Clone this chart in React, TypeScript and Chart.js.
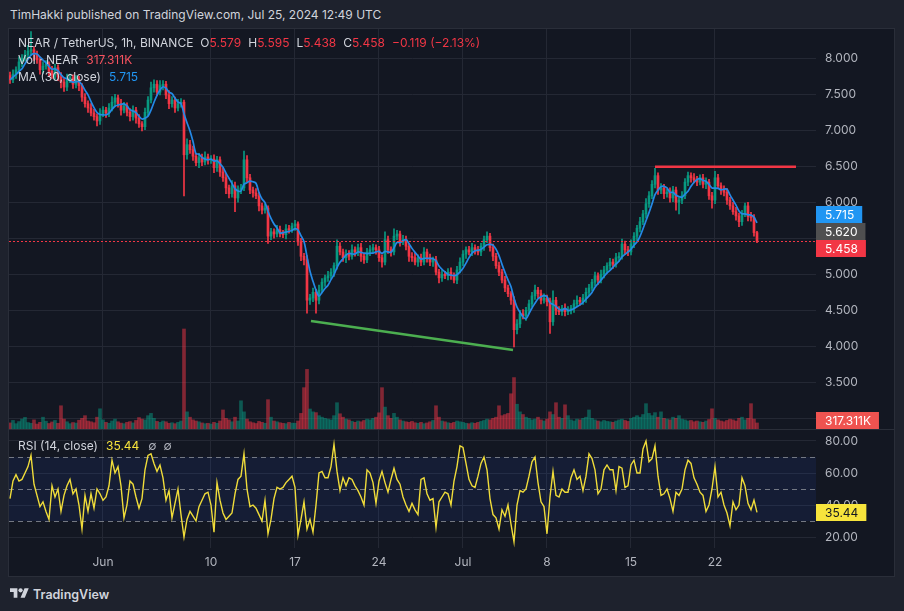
import React, { useEffect, useRef } from 'react';
import { Chart, registerables } from 'chart.js';

Chart.register(...registerables);

// NEAR/USDT, sampled every 6 hours. x is measured in days from 1 Jun 2024 00:00 UTC.
const FIRST_DAY = -7.75;
const STEP_DAYS = 0.25;
const FIRST_OPEN = 7.76;
const MA_WINDOW = 5; // 5 samples x 6h = 30 hours

const closes = [
  7.70, 7.78, 7.84, 7.95, 8.00, 8.05, 8.10, 8.12, 8.05, 7.98,
  7.84, 7.89, 7.92, 7.82, 7.77, 7.87, 7.74, 7.67, 7.60, 7.70,
  7.73, 7.64, 7.70, 7.62, 7.46, 7.37, 7.31, 7.24, 7.19, 7.13,
  7.23, 7.28, 7.24, 7.31, 7.39, 7.45, 7.37, 7.28, 7.34, 7.25,
  7.19, 7.28, 7.17, 7.09, 7.05, 7.25, 7.42, 7.59, 7.64, 7.53,
  7.62, 7.64, 7.49, 7.37, 7.42, 7.31, 7.37, 7.39, 6.66, 6.80,
  6.73, 6.64, 6.55, 6.62, 6.56, 6.63, 6.59, 6.60, 6.48, 6.59,
  6.42, 6.34, 6.20, 6.12, 6.23, 6.06, 6.17, 6.20, 6.59, 6.34,
  6.17, 6.13, 6.09, 5.95, 5.89, 5.92, 5.53, 5.59, 5.56, 5.62,
  5.57, 5.55, 5.63, 5.62, 5.67, 5.70, 5.45, 5.25, 5.20, 4.64,
  4.67, 4.75, 4.64, 4.78, 4.89, 4.95, 4.98, 5.03, 5.12, 5.39,
  5.31, 5.23, 5.28, 5.25, 5.34, 5.31, 5.37, 5.25, 5.20, 5.31,
  5.34, 5.37, 5.34, 5.23, 5.17, 5.48, 5.34, 5.31, 5.53, 5.56,
  5.45, 5.48, 5.39, 5.25, 5.23, 5.17, 5.23, 5.17, 5.31, 5.23,
  5.17, 5.20, 5.03, 4.95, 5.00, 4.98, 5.03, 4.98, 4.92, 5.06,
  5.17, 5.28, 5.34, 5.31, 5.37, 5.34, 5.31, 5.39, 5.48, 5.53,
  5.37, 5.25, 5.12, 5.03, 4.92, 4.81, 4.73, 4.64, 4.23, 4.31,
  4.45, 4.42, 4.50, 4.59, 4.70, 4.78, 4.73, 4.64, 4.67, 4.62,
  4.34, 4.64, 4.50, 4.48, 4.53, 4.48, 4.50, 4.53, 4.59, 4.64,
  4.62, 4.67, 4.75, 4.81, 4.89, 4.98, 4.92, 5.00, 5.06, 5.12,
  5.17, 5.14, 5.23, 5.25, 5.42, 5.34, 5.31, 5.42, 5.53, 5.64,
  5.73, 5.84, 5.98, 6.09, 6.25, 6.37, 6.17, 6.20, 6.12, 6.14,
  6.06, 6.17, 6.00, 6.03, 6.09, 6.28, 6.37, 6.34, 6.31, 6.28,
  6.34, 6.25, 6.28, 6.09, 6.03, 6.34, 6.23, 6.17, 6.14, 6.03,
  5.95, 5.87, 5.81, 5.73, 5.84, 5.95, 5.80, 5.788, 5.579, 5.458,
];

// distance of the high above the candle body
const wickUp = [
  .05, .06, .04, .07, .05, .06, .08, .25, .04, .05,
  .04, .06, .05, .03, .07, .05, .04, .06, .05, .08,
  .05, .04, .06, .05, .03, .05, .04, .06, .05, .04,
  .07, .05, .04, .06, .08, .05, .04, .06, .05, .04,
  .05, .06, .04, .05, .03, .06, .05, .08, .06, .05,
  .07, .05, .04, .06, .05, .04, .06, .05, .03, .08,
  .06, .05, .04, .06, .05, .07, .04, .05, .06, .05,
  .04, .05, .06, .04, .07, .05, .06, .05, .12, .06,
  .05, .04, .06, .05, .04, .06, .03, .05, .04, .06,
  .05, .04, .06, .05, .04, .05, .03, .05, .04, .06,
  .05, .06, .04, .07, .05, .04, .06, .05, .04, .09,
  .05, .04, .06, .05, .07, .04, .05, .06, .04, .05,
  .06, .05, .04, .05, .04, .11, .05, .04, .10, .05,
  .04, .06, .05, .04, .05, .06, .04, .05, .06, .04,
  .05, .04, .05, .04, .06, .04, .05, .06, .04, .05,
  .06, .05, .04, .05, .06, .04, .05, .04, .05, .06,
  .04, .05, .04, .05, .04, .05, .04, .03, .05, .06,
  .05, .06, .04, .05, .05, .07, .04, .05, .06, .04,
  .05, .13, .04, .05, .04, .06, .05, .04, .05, .06,
  .04, .05, .06, .05, .04, .05, .04, .06, .05, .04,
  .05, .04, .06, .05, .07, .04, .05, .06, .05, .04,
  .06, .05, .07, .06, .05, .10, .04, .06, .05, .04,
  .06, .05, .04, .05, .06, .05, .05, .04, .06, .05,
  .04, .05, .06, .04, .05, .09, .05, .04, .06, .05,
  .04, .05, .06, .04, .05, .04, .05, .06, .04, .016,
];

// distance of the low below the candle body
const wickDn = [
  .05, .04, .06, .05, .07, .04, .05, .06, .08, .05,
  .06, .05, .04, .07, .05, .06, .05, .08, .06, .05,
  .04, .06, .05, .07, .06, .05, .06, .04, .05, .07,
  .05, .04, .06, .05, .04, .06, .05, .07, .04, .05,
  .06, .05, .07, .05, .06, .04, .05, .04, .06, .05,
  .04, .06, .05, .07, .05, .06, .04, .05, .57, .06,
  .05, .06, .04, .07, .05, .04, .06, .05, .07, .05,
  .06, .05, .08, .06, .05, .19, .06, .05, .04, .06,
  .05, .06, .04, .07, .05, .04, .10, .05, .06, .04,
  .05, .04, .06, .05, .04, .06, .05, .06, .07, .18,
  .06, .05, .18, .05, .04, .06, .05, .04, .06, .05,
  .04, .05, .07, .05, .04, .06, .05, .07, .05, .04,
  .05, .04, .06, .05, .07, .04, .05, .06, .04, .05,
  .06, .04, .05, .07, .05, .04, .06, .05, .04, .06,
  .05, .06, .04, .07, .05, .04, .06, .05, .04, .05,
  .04, .05, .06, .04, .05, .06, .04, .05, .06, .04,
  .05, .06, .04, .05, .04, .05, .04, .06, .24, .06,
  .05, .04, .06, .05, .04, .05, .06, .05, .04, .06,
  .16, .05, .06, .04, .05, .06, .04, .05, .06, .04,
  .05, .04, .06, .05, .04, .05, .06, .04, .05, .04,
  .05, .06, .04, .05, .04, .06, .05, .04, .05, .06,
  .05, .04, .06, .05, .04, .05, .06, .05, .07, .05,
  .06, .05, .11, .16, .05, .04, .05, .06, .04, .05,
  .04, .05, .06, .05, .11, .05, .04, .06, .05, .06,
  .05, .04, .06, .07, .05, .04, .06, .05, .05, .02,
];

// volume in thousands of NEAR
const volumes = [
  320, 450, 280, 390, 520, 610, 340, 300, 480, 260,
  350, 620, 410, 290, 370, 450, 300, 1220, 520, 380,
  280, 340, 310, 460, 560, 700, 420, 380, 330, 620,
  1060, 480, 350, 300, 420, 520, 380, 310, 280, 350,
  390, 320, 450, 600, 520, 480, 700, 820, 560, 400,
  350, 420, 380, 300, 330, 280, 350, 420, 5250, 900,
  620, 480, 420, 380, 320, 280, 300, 260, 350, 300,
  420, 1000, 560, 480, 380, 620, 420, 1480, 900, 520,
  380, 330, 290, 400, 350, 300, 1540, 620, 420, 380,
  330, 300, 280, 350, 310, 300, 420, 820, 2170, 3130,
  1050, 900, 860, 700, 620, 560, 520, 480, 700, 1380,
  800, 620, 520, 480, 400, 350, 420, 380, 450, 520,
  480, 560, 620, 850, 2170, 1150, 700, 560, 820, 620,
  480, 420, 380, 350, 400, 330, 300, 350, 280, 320,
  380, 450, 1220, 620, 420, 380, 330, 300, 350, 420,
  380, 350, 300, 280, 330, 300, 350, 400, 450, 520,
  480, 560, 620, 1220, 700, 760, 820, 1850, 2700, 1300,
  900, 760, 620, 560, 480, 520, 620, 480, 420, 520,
  900, 760, 1380, 620, 560, 1270, 700, 480, 420, 520,
  480, 560, 620, 1000, 560, 480, 420, 380, 450, 400,
  380, 350, 420, 480, 520, 450, 400, 560, 620, 700,
  620, 760, 1330, 820, 700, 860, 620, 900, 560, 520,
  480, 620, 560, 700, 520, 480, 420, 450, 380, 420,
  380, 350, 420, 500, 1060, 560, 480, 420, 380, 450,
  520, 480, 420, 560, 620, 480, 560, 1330, 520, 317.311,
];

const rsi = [
  44, 55, 59, 55, 56, 60, 64, 71, 53, 46,
  39, 42, 36, 31, 52, 45, 50, 36, 46, 52,
  56, 47, 50, 40, 25, 46, 36, 47, 38, 50,
  47, 43, 45, 52, 68, 60, 64, 52, 32, 40,
  55, 53, 45, 38, 44, 62, 71, 72, 66, 61,
  65, 57, 43, 49, 32, 41, 50, 34, 20, 31,
  36, 33, 30, 39, 43, 47, 48, 40, 23, 54,
  43, 35, 31, 33, 35, 47, 56, 58, 72, 50,
  39, 40, 38, 34, 30, 43, 22, 31, 44, 51,
  50, 51, 54, 56, 58, 51, 21, 31, 42, 25,
  31, 23, 40, 60, 61, 57, 57, 64, 78, 61,
  49, 57, 52, 57, 56, 52, 49, 45, 40, 62,
  60, 54, 41, 55, 61, 54, 48, 56, 63, 56,
  53, 45, 40, 36, 41, 37, 34, 56, 57, 47,
  43, 44, 26, 42, 45, 48, 47, 40, 55, 64,
  77, 76, 66, 56, 52, 51, 58, 66, 70, 62,
  44, 34, 32, 25, 37, 33, 40, 28, 17, 40,
  49, 48, 50, 58, 67, 70, 54, 42, 39, 22,
  45, 61, 46, 45, 50, 48, 48, 57, 62, 56,
  58, 49, 58, 72, 69, 62, 47, 50, 62, 65,
  62, 62, 49, 64, 63, 51, 52, 65, 68, 60,
  60, 75, 80, 67, 69, 77, 58, 46, 47, 50,
  44, 36, 48, 46, 50, 62, 68, 66, 57, 53,
  48, 46, 36, 40, 50, 64, 45, 48, 40, 35,
  27, 42, 37, 40, 57, 52, 41, 37, 43, 35.44,
];

const tickDays = [0, 9, 16, 23, 30, 37, 44, 51];
const tickLabels = ['Jun', '10', '17', '24', 'Jul', '8', '15', '22'];
const priceTicks = [3, 3.5, 4, 4.5, 5, 5.5, 6, 6.5, 7, 7.5, 8];
const rsiTicks = [20, 40, 60, 80];
const rsiLevels = [30, 50, 70];

// drawn trend lines (x in days, y in USDT)
const supportLine = [{ x: 17.33, y: 4.351 }, { x: 34.17, y: 3.949 }];
const resistanceLine = [{ x: 46.0, y: 6.495 }, { x: 57.75, y: 6.495 }];

const markPrice = 5.62;
const changeText = '\u22120.119 (\u22122.13%)';

// visible ranges
const X_MIN = -7.833;
const X_MAX = 59.417;
const P_MIN = 2.851;
const P_MAX = 8.407;
const VOL_MAX = 21000;
const RSI_MIN = 13.125;
const RSI_MAX = 86.875;

const FONT = 'Inter, "Noto Sans", "DejaVu Sans", sans-serif';
const BG = '#131722';
const OUTER = '#1e222d';
const GRID = '#242834';
const AXIS_TEXT = '#b2b5be';
const TEXT = '#d1d4dc';
const UP = '#089981';
const DOWN = '#f23645';
const MA_COLOR = '#2489e6';
const RSI_COLOR = '#f0dc3a';

const times = closes.map((_, i) => FIRST_DAY + i * STEP_DAYS);
const opens = closes.map((_, i) => (i === 0 ? FIRST_OPEN : closes[i - 1]));
const highs = closes.map((c, i) => Math.max(c, opens[i]) + wickUp[i]);
const lows = closes.map((c, i) => Math.min(c, opens[i]) - wickDn[i]);
const rising = closes.map((c, i) => c >= opens[i]);
const ma = closes.map((_, i) => {
  const win = closes.slice(Math.max(0, i - MA_WINDOW + 1), i + 1);
  return win.reduce((a, b) => a + b, 0) / win.length;
});

const last = closes.length - 1;
const lastClose = closes[last];
const lastMa = ma[last];
const lastVol = volumes[last];
const lastRsi = rsi[last];

type Tag = { axis: string; value: number; text: string; bg: string; fg: string };

function tagPlugin(items: Tag[]) {
  return {
    id: 'axisTags',
    afterDraw(chart: any) {
      const { ctx, chartArea } = chart;
      const H = 17;
      const placed = items
        .map((t) => ({ ...t, y: chart.scales[t.axis].getPixelForValue(t.value) }))
        .sort((a, b) => a.y - b.y);
      const groups: any[][] = [];
      for (const it of placed) {
        const g = groups[groups.length - 1];
        if (g && it.y - g[g.length - 1].y < H) g.push(it);
        else groups.push([it]);
      }
      for (const g of groups) {
        if (g.length < 2) continue;
        const mean = g.reduce((s, it) => s + it.y, 0) / g.length;
        g.forEach((it, k) => (it.y = mean + (k - (g.length - 1) / 2) * H));
      }
      ctx.save();
      ctx.font = `12px ${FONT}`;
      ctx.textBaseline = 'middle';
      for (const it of placed) {
        const w = ctx.measureText(it.text).width + 17;
        let top = Math.round(it.y - H / 2);
        top = Math.min(top, chart.height - H);
        ctx.fillStyle = it.bg;
        ctx.fillRect(chartArea.right, top, w, H);
        ctx.fillStyle = it.fg;
        ctx.fillText(it.text, chartArea.right + 9, top + H / 2 + 0.5);
      }
      ctx.restore();
    },
  };
}

const lastPriceLine = {
  id: 'lastPriceLine',
  afterDatasetsDraw(chart: any) {
    const { ctx, chartArea } = chart;
    const y = Math.round(chart.scales.y.getPixelForValue(lastClose)) + 0.5;
    ctx.save();
    ctx.strokeStyle = DOWN;
    ctx.lineWidth = 1;
    ctx.setLineDash([2, 2]);
    ctx.beginPath();
    ctx.moveTo(chartArea.left, y);
    ctx.lineTo(chartArea.right, y);
    ctx.stroke();
    ctx.restore();
  },
};

const rsiBand = {
  id: 'rsiBand',
  beforeDatasetsDraw(chart: any) {
    const { ctx, chartArea } = chart;
    const ys = chart.scales.y;
    const top = ys.getPixelForValue(70);
    const bot = ys.getPixelForValue(30);
    ctx.save();
    ctx.fillStyle = 'rgba(41, 98, 255, 0.09)';
    ctx.fillRect(chartArea.left, top, chartArea.right - chartArea.left, bot - top);
    ctx.strokeStyle = 'rgba(134, 137, 147, 0.85)';
    ctx.lineWidth = 1;
    ctx.setLineDash([5, 4]);
    for (const lv of rsiLevels) {
      const py = Math.round(ys.getPixelForValue(lv)) + 0.5;
      ctx.beginPath();
      ctx.moveTo(chartArea.left, py);
      ctx.lineTo(chartArea.right, py);
      ctx.stroke();
    }
    ctx.restore();
  },
};

const dayGrid = (hideLabels: boolean) => ({
  type: 'linear' as const,
  min: X_MIN,
  max: X_MAX,
  offset: false,
  grid: { color: GRID, drawTicks: false, offset: false },
  border: { display: false },
  ticks: {
    display: !hideLabels,
    autoSkip: false,
    maxRotation: 0,
    padding: 7,
    color: AXIS_TEXT,
    font: { family: FONT, size: 12 },
    callback: (_v: any, idx: number) => tickLabels[idx],
  },
  afterBuildTicks: (s: any) => {
    s.ticks = tickDays.map((v) => ({ value: v }));
  },
  afterFit: (s: any) => {
    s.height = hideLabels ? 0 : 28;
    s.paddingLeft = 0;
    s.paddingRight = 0;
  },
});

const rightAxis = (min: number, max: number, ticks: number[], digits: number) => ({
  type: 'linear' as const,
  position: 'right' as const,
  min,
  max,
  grid: { color: GRID, drawTicks: false },
  border: { display: false },
  ticks: {
    color: AXIS_TEXT,
    padding: 9,
    font: { family: FONT, size: 12 },
    callback: (v: any) => Number(v).toFixed(digits),
  },
  afterBuildTicks: (s: any) => {
    s.ticks = ticks.map((v) => ({ value: v }));
  },
  afterFit: (s: any) => {
    s.width = 78;
    s.paddingTop = 0;
    s.paddingBottom = 0;
  },
});

export default function App() {
  const priceRef = useRef<HTMLCanvasElement>(null);
  const rsiRef = useRef<HTMLCanvasElement>(null);

  useEffect(() => {
    const price = new Chart(priceRef.current as HTMLCanvasElement, {
      type: 'bar',
      data: {
        datasets: [
          {
            type: 'bar',
            label: 'Vol',
            yAxisID: 'yv',
            data: volumes.map((v, i) => ({ x: times[i], y: v })),
            backgroundColor: rising.map((r) => (r ? 'rgba(8,153,129,0.5)' : 'rgba(242,54,69,0.5)')),
            barThickness: 3,
            grouped: false,
            order: 9,
          } as any,
          {
            type: 'bar',
            label: 'Wicks',
            yAxisID: 'y',
            data: times.map((t, i) => ({ x: t, y: [lows[i], highs[i]] })),
            backgroundColor: rising.map((r) => (r ? UP : DOWN)),
            barThickness: 1,
            grouped: false,
            order: 6,
          } as any,
          {
            type: 'bar',
            label: 'Bodies',
            yAxisID: 'y',
            data: times.map((t, i) => ({ x: t, y: [opens[i], closes[i]] })),
            backgroundColor: rising.map((r) => (r ? UP : DOWN)),
            barThickness: 2,
            minBarLength: 1,
            grouped: false,
            order: 5,
          } as any,
          {
            type: 'line',
            label: 'MA (30, close)',
            yAxisID: 'y',
            data: times.map((t, i) => ({ x: t, y: ma[i] })),
            borderColor: MA_COLOR,
            borderWidth: 1.7,
            pointRadius: 0,
            tension: 0.3,
            order: 3,
          } as any,
          {
            type: 'line',
            label: 'Support',
            yAxisID: 'y',
            data: supportLine,
            borderColor: '#4caf50',
            borderWidth: 2.5,
            pointRadius: 0,
            order: 1,
          } as any,
          {
            type: 'line',
            label: 'Resistance',
            yAxisID: 'y',
            data: resistanceLine,
            borderColor: DOWN,
            borderWidth: 2.5,
            pointRadius: 0,
            order: 1,
          } as any,
        ],
      },
      options: {
        responsive: false,
        animation: false,
        events: [],
        layout: { padding: 0 },
        plugins: { legend: { display: false }, tooltip: { enabled: false } },
        scales: {
          x: dayGrid(true),
          y: rightAxis(P_MIN, P_MAX, priceTicks, 3),
          yv: { type: 'linear', display: false, min: 0, max: VOL_MAX },
        } as any,
      },
      plugins: [
        lastPriceLine,
        tagPlugin([
          { axis: 'y', value: lastMa, text: lastMa.toFixed(3), bg: '#2196f3', fg: '#ffffff' },
          { axis: 'y', value: markPrice, text: markPrice.toFixed(3), bg: '#4f4f50', fg: '#ffffff' },
          { axis: 'y', value: lastClose, text: lastClose.toFixed(3), bg: DOWN, fg: '#ffffff' },
          { axis: 'yv', value: lastVol, text: lastVol.toFixed(3) + 'K', bg: '#ef5350', fg: '#ffffff' },
        ]),
      ],
    });

    const rsiChart = new Chart(rsiRef.current as HTMLCanvasElement, {
      type: 'line',
      data: {
        datasets: [
          {
            label: 'RSI',
            data: times.map((t, i) => ({ x: t, y: rsi[i] })),
            borderColor: RSI_COLOR,
            borderWidth: 1.4,
            pointRadius: 0,
          },
        ],
      },
      options: {
        responsive: false,
        animation: false,
        events: [],
        layout: { padding: 0 },
        plugins: { legend: { display: false }, tooltip: { enabled: false } },
        scales: {
          x: dayGrid(false),
          y: rightAxis(RSI_MIN, RSI_MAX, rsiTicks, 2),
        } as any,
      },
      plugins: [
        rsiBand,
        tagPlugin([{ axis: 'y', value: lastRsi, text: lastRsi.toFixed(2), bg: '#f7e43c', fg: '#131722' }]),
      ],
    });

    return () => {
      price.destroy();
      rsiChart.destroy();
    };
  }, []);

  const red = { color: DOWN };
  const gap = { marginLeft: 7 };

  return (
    <div
      style={{
        position: 'fixed',
        left: 0,
        top: 0,
        width: 904,
        height: 611,
        background: OUTER,
        fontFamily: FONT,
        overflow: 'hidden',
      }}
    >
      <div style={{ position: 'absolute', left: 10, top: 7, fontSize: 12, lineHeight: '16px', color: TEXT, whiteSpace: 'nowrap' }}>
        TimHakki published on TradingView.com, Jul 25, 2024 12:49 UTC
      </div>

      <div
        style={{
          position: 'absolute',
          left: 8,
          top: 28,
          width: 887,
          height: 549,
          background: BG,
          border: '1px solid #2a2e39',
          boxSizing: 'border-box',
        }}
      />
      <canvas ref={priceRef} width={885} height={400} style={{ position: 'absolute', left: 9, top: 29, width: 885, height: 400 }} />
      <div style={{ position: 'absolute', left: 9, top: 429, width: 885, height: 1, background: '#2a2e39' }} />
      <canvas ref={rsiRef} width={885} height={146} style={{ position: 'absolute', left: 9, top: 430, width: 885, height: 146 }} />

      <div style={{ position: 'absolute', left: 18, top: 35, fontSize: 12, lineHeight: '16px', color: TEXT, whiteSpace: 'nowrap' }}>
        <div>
          NEAR / TetherUS, 1h, BINANCE
          <span style={gap}>O<span style={red}>{opens[last].toFixed(3)}</span></span>
          <span style={gap}>H<span style={red}>{highs[last].toFixed(3)}</span></span>
          <span style={gap}>L<span style={red}>{lows[last].toFixed(3)}</span></span>
          <span style={gap}>C<span style={red}>{lastClose.toFixed(3)}</span></span>
          <span style={{ ...gap, ...red }}>{changeText}</span>
        </div>
        <div style={{ marginTop: 1 }}>
          Vol · NEAR<span style={{ marginLeft: 8, color: '#f7525f' }}>{lastVol.toFixed(3)}K</span>
        </div>
        <div style={{ marginTop: 1 }}>
          MA (30, close)<span style={{ marginLeft: 8, color: '#2196f3' }}>{lastMa.toFixed(3)}</span>
        </div>
      </div>

      <div style={{ position: 'absolute', left: 18, top: 438, fontSize: 12, lineHeight: '16px', color: TEXT, whiteSpace: 'nowrap' }}>
        RSI (14, close)
        <span style={{ marginLeft: 8, color: '#f7e43c' }}>{lastRsi.toFixed(2)}</span>
        <span style={{ marginLeft: 9, color: AXIS_TEXT }}>∅</span>
        <span style={{ marginLeft: 7, color: AXIS_TEXT }}>∅</span>
      </div>

      <svg width={19} height={15} viewBox="0 0 36 28" style={{ position: 'absolute', left: 10, top: 586 }}>
        <path d="M14 22H7V11H0V4h14v18zM28 22h-8l7.5-18h8L28 22z" fill={TEXT} />
        <circle cx={20} cy={8} r={4} fill={TEXT} />
      </svg>
      <div style={{ position: 'absolute', left: 33, top: 586, fontSize: 12.5, lineHeight: '17px', fontWeight: 600, color: TEXT, whiteSpace: 'nowrap' }}>
        TradingView
      </div>
    </div>
  );
}
